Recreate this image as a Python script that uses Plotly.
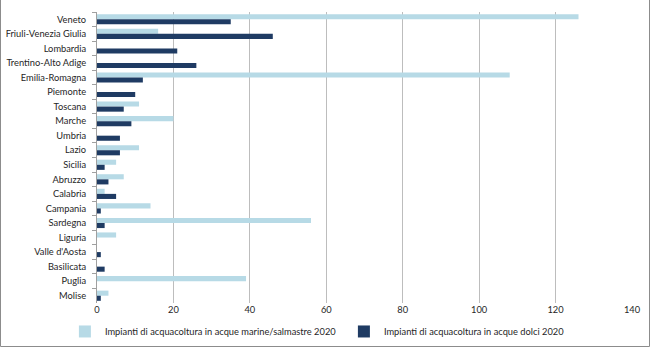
import plotly.graph_objects as go

# Regioni e numero di impianti di acquacoltura (2020)
regioni = ["Veneto", "Friuli-Venezia Giulia", "Lombardia", "Trentino-Alto Adige",
           "Emilia-Romagna", "Piemonte", "Toscana", "Marche", "Umbria", "Lazio",
           "Sicilia", "Abruzzo", "Calabria", "Campania", "Sardegna", "Liguria",
           "Valle d'Aosta", "Basilicata", "Puglia", "Molise"]
marine_salmastre = [126, 16, 0, 0, 108, 0, 11, 20, 0, 11, 5, 7, 2, 14, 56, 5, 0, 0, 39, 3]
acque_dolci = [35, 46, 21, 26, 12, 10, 7, 9, 6, 6, 2, 3, 5, 1, 2, 0, 1, 2, 0, 1]
x_ticks = [0, 20, 40, 60, 80, 100, 120, 140]

W, H = 650, 347
ML, MR, MT, MB = 97, 18, 12, 44
FONT = "Lato"
FS = 9.3

fig = go.Figure()
fig.add_trace(go.Bar(y=regioni, x=marine_salmastre, orientation="h",
                     name="Impianti di acquacoltura in acque marine/salmastre 2020",
                     marker=dict(color="#B7DAE6", line=dict(width=0))))
fig.add_trace(go.Bar(y=regioni, x=acque_dolci, orientation="h",
                     name="Impianti di acquacoltura in acque dolci 2020",
                     marker=dict(color="#1F3B63", line=dict(width=0))))

pw = W - ML - MR
ph = H - MT - MB
fig.update_layout(
    width=W, height=H,
    margin=dict(l=ML, r=MR, t=MT, b=MB, autoexpand=False),
    barmode="group", bargap=0.3, bargroupgap=0,
    plot_bgcolor="white", paper_bgcolor="white",
    font=dict(family=FONT, size=FS, color="#262626"),
    xaxis=dict(range=[0, 140], tickvals=x_ticks, showgrid=True,
               gridcolor="#BDBDBD", gridwidth=1, zeroline=False,
               showline=False, ticks="", tickfont=dict(size=FS),
               automargin=False),
    yaxis=dict(autorange="reversed", showline=True, linecolor="#A0A0A0",
               linewidth=1, ticks="outside", tickson="boundaries",
               ticklen=4, tickcolor="#A0A0A0", showgrid=False,
               tickfont=dict(size=FS), automargin=False,
               ticklabelstandoff=8),
    legend=dict(orientation="h", x=-0.06, xanchor="left", y=-0.048,
                yanchor="top", font=dict(size=FS), entrywidth=234,
                entrywidthmode="pixels", traceorder="normal"),
    shapes=[dict(type="rect", xref="paper", yref="paper",
                 x0=(0.5 - ML) / pw, x1=(W - 0.5 - ML) / pw,
                 y0=-(H - 0.5 - MT - ph) / ph, y1=(H - 0.5 - MT) / ph,
                 line=dict(color="#8C8C8C", width=1))],
)

fig.write_html("out.html")
